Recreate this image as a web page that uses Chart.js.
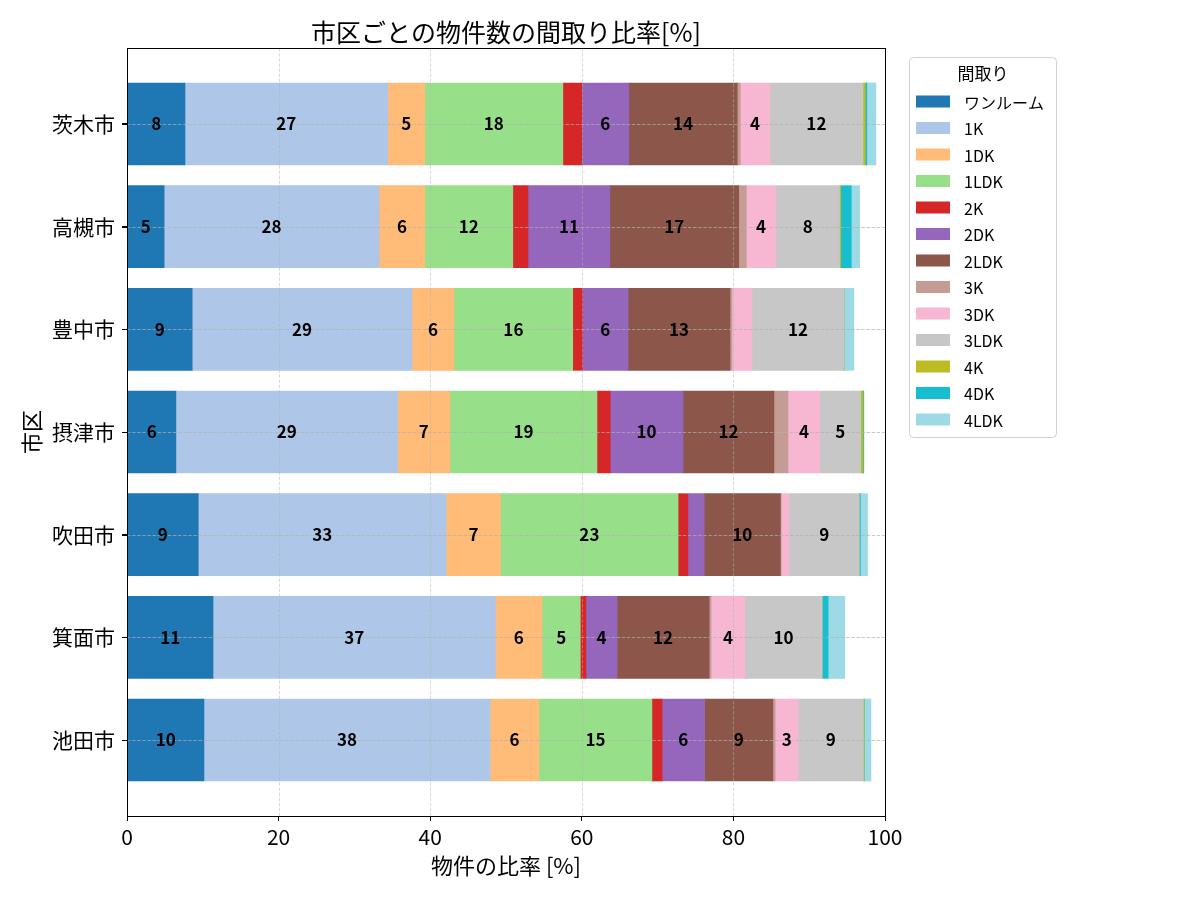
<!DOCTYPE html>
<html>
<head>
<meta charset="utf-8">
<script src="https://cdn.jsdelivr.net/npm/chart.js@4"></script>
<style>
  html, body { margin: 0; padding: 0; background: #fff; }
  canvas { display: block; }
</style>
</head>
<body>
<canvas id="c" width="1200" height="900"></canvas>
<script>
// ---- data ----
const cities = ['茨木市', '高槻市', '豊中市', '摂津市', '吹田市', '箕面市', '池田市'];
const layouts = ['ワンルーム', '1K', '1DK', '1LDK', '2K', '2DK', '2LDK', '3K', '3DK', '3LDK', '4K', '4DK', '4LDK'];
const oneRoom = [7.65, 4.9, 8.6, 6.45, 9.4, 11.35, 10.15];
const k1      = [26.75, 28.35, 29.0, 29.25, 32.7, 37.25, 37.75];
const dk1     = [4.9, 6.05, 5.55, 6.9, 7.2, 6.15, 6.45];
const ldk1    = [18.2, 11.6, 15.65, 19.4, 23.4, 5.05, 14.9];
const k2      = [2.5, 2.0, 1.3, 1.75, 1.3, 0.75, 1.35];
const dk2     = [6.2, 10.8, 6.0, 9.6, 2.15, 4.1, 5.6];
const ldk2    = [14.3, 17.0, 13.45, 12.0, 10.05, 12.15, 9.0];
const k3      = [0.4, 1.0, 0.25, 1.85, 0.1, 0.25, 0.3];
const dk3     = [3.9, 3.9, 2.65, 4.2, 1.05, 4.45, 3.05];
const ldk3    = [12.3, 8.4, 12.15, 5.4, 9.25, 10.2, 8.6];
const k4      = [0.3, 0.15, 0, 0.3, 0, 0, 0.1];
const dk4     = [0.2, 1.4, 0, 0.1, 0.15, 0.8, 0];
const ldk4    = [1.2, 1.1, 1.3, 0, 0.95, 2.2, 0.9];
const xTicks  = [0, 20, 40, 60, 80, 100];
const titleText = '市区ごとの物件数の間取り比率[%]';
const xTitle = '物件の比率 [%]';
const yTitle = '市区';
const legendTitle = '間取り';

const seriesValues = [oneRoom, k1, dk1, ldk1, k2, dk2, ldk2, k3, dk3, ldk3, k4, dk4, ldk4];
const colors = ['#1f77b4', '#aec7e8', '#ffbb78', '#98df8a', '#d62728', '#9467bd', '#8c564b',
                '#c49c94', '#f7b6d2', '#c7c7c7', '#bcbd22', '#17becf', '#9edae5'];

const FONT = "'Noto Sans CJK JP', 'Noto Sans', sans-serif";
Chart.defaults.font.family = FONT;
Chart.defaults.color = '#000';

const datasets = layouts.map((name, s) => ({
  label: name,
  data: cities.map((c, i) => ({ x: seriesValues[s][i], y: i })),
  backgroundColor: colors[s],
  borderWidth: 0,
  barThickness: 82,
}));

const overlay = {
  id: 'overlay',
  afterDatasetsDraw(chart) {
    const { ctx, chartArea: a, scales: { x, y } } = chart;
    ctx.save();
    ctx.lineWidth = 0.8;
    ctx.setLineDash([3.5, 1.6]);
    // vertical grid
    ctx.strokeStyle = 'rgba(176,176,176,0.6)';
    xTicks.forEach(v => {
      const px = Math.round(x.getPixelForValue(v)) + 0.5;
      ctx.beginPath(); ctx.moveTo(px, a.top); ctx.lineTo(px, a.bottom); ctx.stroke();
    });
    // horizontal grid
    ctx.strokeStyle = 'rgba(176,176,176,0.85)';
    cities.forEach((c, i) => {
      const py = Math.round(y.getPixelForValue(i)) + 0.5;
      ctx.beginPath(); ctx.moveTo(a.left, py); ctx.lineTo(a.right, py); ctx.stroke();
    });
    ctx.setLineDash([]);
    // frame
    ctx.strokeStyle = '#000';
    ctx.lineWidth = 1;
    ctx.strokeRect(Math.round(a.left) + 0.5, Math.round(a.top) + 0.5,
                   Math.round(a.right - a.left), Math.round(a.bottom - a.top));
    // tick marks on left axis
    cities.forEach((c, i) => {
      const py = Math.round(y.getPixelForValue(i)) + 0.5;
      ctx.beginPath(); ctx.moveTo(a.left - 5, py); ctx.lineTo(a.left, py); ctx.stroke();
    });
    // bar labels
    ctx.fillStyle = '#000';
    ctx.font = 'bold 17px ' + FONT;
    ctx.textAlign = 'center';
    ctx.textBaseline = 'middle';
    chart.data.datasets.forEach((ds, s) => {
      const meta = chart.getDatasetMeta(s);
      meta.data.forEach((el, i) => {
        const v = seriesValues[s][i];
        if (v < 3) return;
        const p = el.getProps(['x', 'base', 'y'], true);
        ctx.fillText(String(Math.round(v)), (p.x + p.base) / 2, p.y);
      });
    });
    ctx.restore();
  },
  afterDraw(chart) {
    const { ctx, chartArea: a } = chart;
    ctx.save();
    // title
    ctx.fillStyle = '#000';
    ctx.font = '25px ' + FONT;
    ctx.textAlign = 'center';
    ctx.textBaseline = 'middle';
    ctx.fillText(titleText, (a.left + a.right) / 2, 32);
    // legend box
    const bx = 909.5, by = 57.5, bw = 147, bh = 380;
    ctx.beginPath();
    if (ctx.roundRect) ctx.roundRect(bx, by, bw, bh, 4); else ctx.rect(bx, by, bw, bh);
    ctx.fillStyle = 'rgba(255,255,255,0.9)';
    ctx.fill();
    ctx.strokeStyle = '#d0d0d0';
    ctx.lineWidth = 1;
    ctx.stroke();
    ctx.fillStyle = '#000';
    ctx.font = '17px ' + FONT;
    ctx.fillText(legendTitle, bx + bw / 2, 74);
    ctx.font = '16px ' + FONT;
    ctx.textAlign = 'left';
    chart.data.datasets.forEach((ds, s) => {
      const cy = 101.5 + s * 26.5;
      ctx.fillStyle = ds.backgroundColor;
      ctx.fillRect(916, cy - 6, 34, 12);
      ctx.fillStyle = '#000';
      ctx.fillText(ds.label, 964, cy + 1);
    });
    ctx.restore();
  }
};

new Chart(document.getElementById('c'), {
  type: 'bar',
  data: { datasets },
  options: {
    indexAxis: 'y',
    responsive: false,
    animation: false,
    devicePixelRatio: 1,
    layout: { padding: { top: 48, right: 315, bottom: 0, left: 0 } },
    plugins: {
      legend: { display: false },
      title: { display: false },
      tooltip: { enabled: false },
    },
    scales: {
      x: {
        type: 'linear',
        stacked: true,
        min: 0,
        max: 100,
        offset: false,
        border: { display: false },
        grid: { display: true, offset: false, drawOnChartArea: false, drawTicks: true, tickLength: 5, color: '#000' },
        ticks: { stepSize: 20, padding: 3, font: { size: 21 }, color: '#000', maxRotation: 0 },
        afterBuildTicks: (axis) => { axis.ticks = xTicks.map(v => ({ value: v })); },
        afterFit: (scale) => { scale.height = 84; },
        title: { display: true, text: xTitle, font: { size: 22 }, color: '#000', padding: { top: 0, bottom: 21 } },
      },
      y: {
        type: 'linear',
        stacked: true,
        reverse: true,
        min: -0.74,
        max: 6.74,
        offset: false,
        border: { display: false },
        grid: { display: true, offset: false, drawOnChartArea: false, drawTicks: true, tickLength: 5, color: '#000' },
        ticks: {
          padding: 7,
          font: { size: 21 },
          color: '#000',
          autoSkip: false,
          callback: (v) => cities[v] !== undefined ? cities[v] : '',
        },
        afterBuildTicks: (axis) => { axis.ticks = cities.map((c, i) => ({ value: i })); },
        afterFit: (scale) => { scale.width = 127; },
        title: { display: true, text: yTitle, font: { size: 22 }, color: '#000', padding: { top: 18, bottom: 0 } },
      },
    },
  },
  plugins: [overlay],
});
</script>
</body>
</html>
